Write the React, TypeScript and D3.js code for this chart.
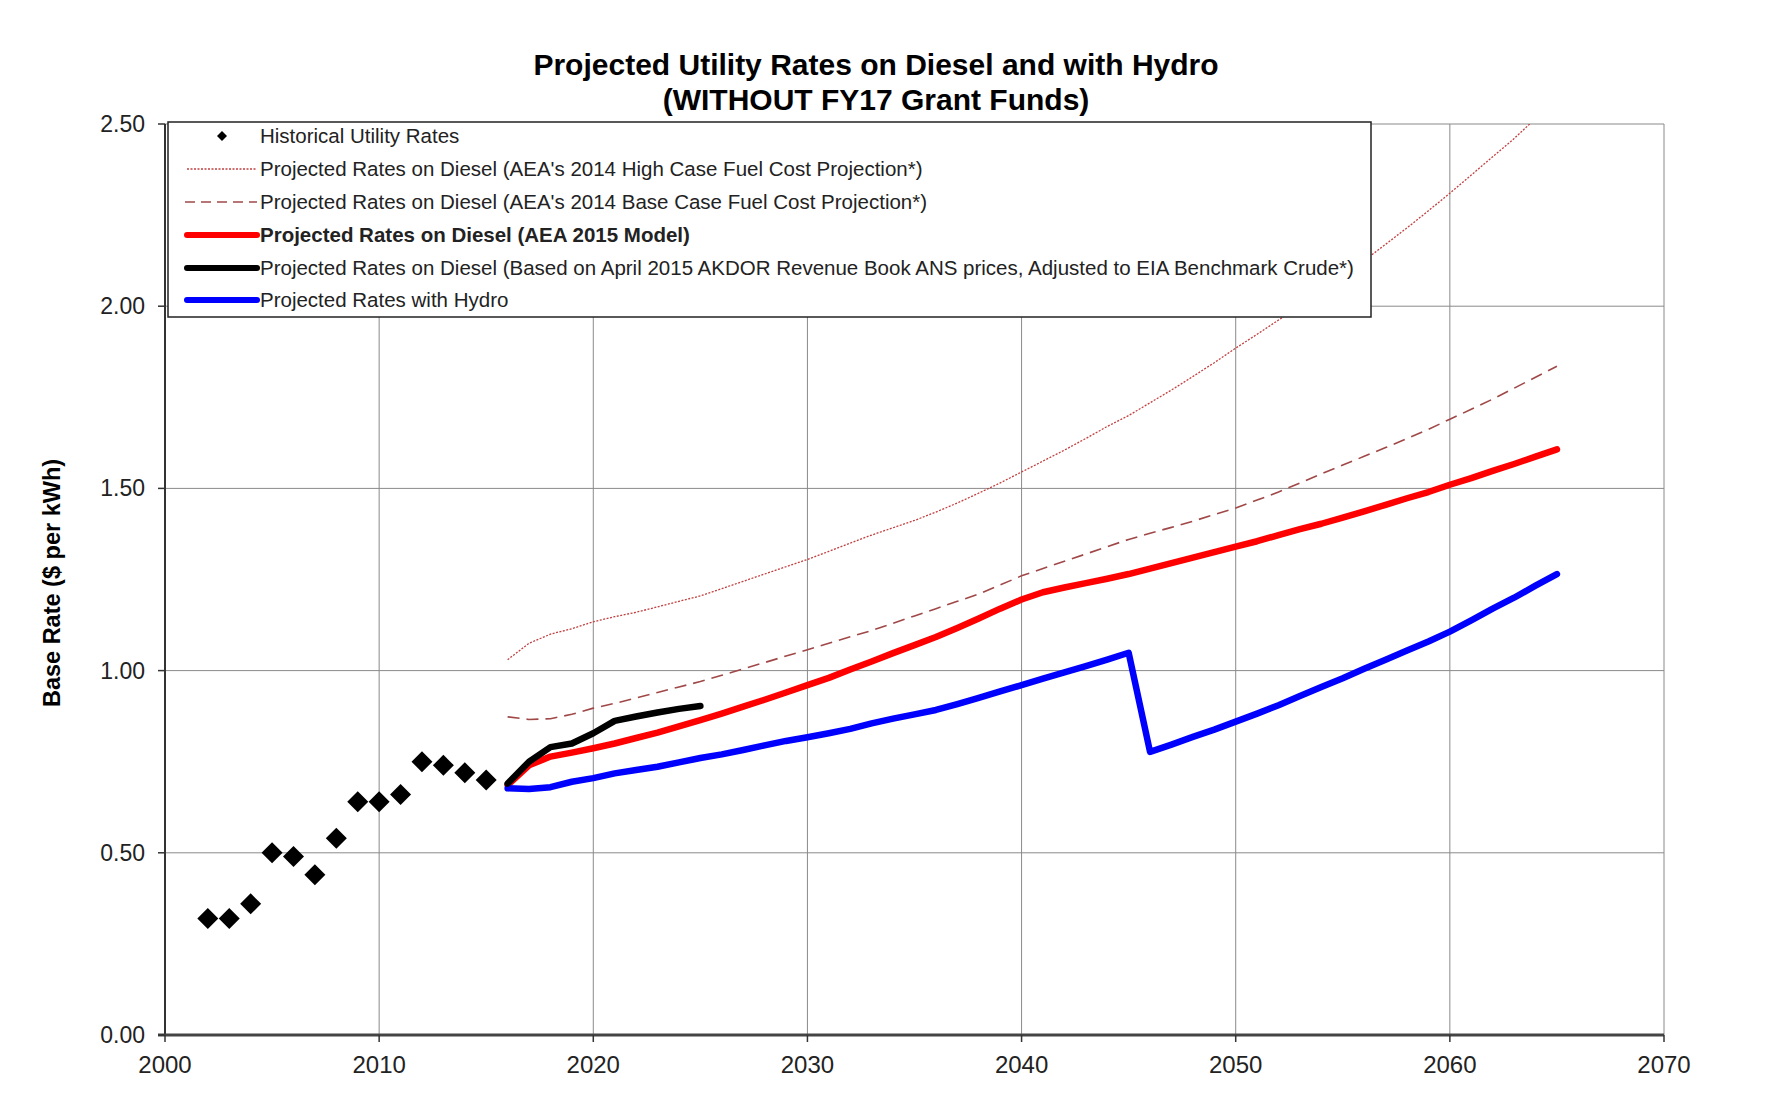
import React from "react";
import * as d3 from "d3";

const W = 1767;
const H = 1096;

const histYears = [2002, 2003, 2004, 2005, 2006, 2007, 2008, 2009, 2010, 2011, 2012, 2013, 2014, 2015];
const histRates = [0.32, 0.32, 0.36, 0.50, 0.49, 0.44, 0.54, 0.64, 0.64, 0.66, 0.75, 0.74, 0.72, 0.70];

const projYears = d3.range(2016, 2066);
const highCase = [1.03, 1.075, 1.10, 1.115, 1.134, 1.148, 1.16, 1.175, 1.19, 1.205, 1.225, 1.245, 1.265, 1.285, 1.305, 1.327, 1.35, 1.372, 1.392, 1.412, 1.435, 1.46, 1.487, 1.515, 1.545, 1.575, 1.605, 1.637, 1.67, 1.70, 1.735, 1.77, 1.807, 1.845, 1.885, 1.923, 1.962, 2.0, 2.04, 2.08, 2.125, 2.17, 2.215, 2.262, 2.31, 2.36, 2.41, 2.46, 2.515, 2.57];
const baseCase = [0.873, 0.866, 0.868, 0.88, 0.897, 0.91, 0.925, 0.94, 0.955, 0.97, 0.987, 1.005, 1.022, 1.04, 1.057, 1.075, 1.093, 1.11, 1.13, 1.15, 1.17, 1.19, 1.21, 1.235, 1.26, 1.28, 1.3, 1.32, 1.34, 1.36, 1.377, 1.393, 1.41, 1.428, 1.446, 1.468, 1.49, 1.515, 1.54, 1.564, 1.588, 1.612, 1.637, 1.662, 1.69, 1.717, 1.745, 1.775, 1.805, 1.835];
const aea2015 = [0.686, 0.74, 0.764, 0.775, 0.787, 0.80, 0.815, 0.83, 0.847, 0.864, 0.882, 0.901, 0.92, 0.94, 0.96, 0.98, 1.003, 1.025, 1.048, 1.07, 1.092, 1.117, 1.143, 1.17, 1.195, 1.215, 1.228, 1.24, 1.252, 1.265, 1.28, 1.295, 1.31, 1.325, 1.34, 1.355, 1.372, 1.388, 1.403, 1.42, 1.437, 1.455, 1.473, 1.49, 1.51, 1.528, 1.548, 1.567, 1.587, 1.607];
const hydro = [0.677, 0.675, 0.68, 0.695, 0.705, 0.718, 0.727, 0.736, 0.748, 0.76, 0.77, 0.782, 0.795, 0.807, 0.817, 0.828, 0.84, 0.855, 0.868, 0.88, 0.892, 0.908, 0.925, 0.943, 0.96, 0.978, 0.995, 1.012, 1.03, 1.049, 0.777, 0.797, 0.818, 0.838, 0.86, 0.882, 0.905, 0.93, 0.955, 0.979, 1.005, 1.03, 1.055, 1.08, 1.107, 1.138, 1.17, 1.2, 1.233, 1.265];
const akdorYears = [2016, 2017, 2018, 2019, 2020, 2021, 2022, 2023, 2024, 2025];
const akdor = [0.69, 0.75, 0.79, 0.80, 0.828, 0.862, 0.874, 0.885, 0.895, 0.903];

const xTicks = [2000, 2010, 2020, 2030, 2040, 2050, 2060, 2070];
const yTicks = [0, 0.5, 1.0, 1.5, 2.0, 2.5];

const titleLines = ["Projected Utility Rates on Diesel and with Hydro", "(WITHOUT FY17 Grant Funds)"];
const yTitle = "Base Rate ($ per kWh)";
const legendLabels = [
  "Historical Utility Rates",
  "Projected Rates on Diesel (AEA's 2014 High Case Fuel Cost Projection*)",
  "Projected Rates on Diesel (AEA's 2014 Base Case Fuel Cost Projection*)",
  "Projected Rates on Diesel (AEA 2015 Model)",
  "Projected Rates on Diesel (Based on April 2015 AKDOR Revenue Book ANS prices, Adjusted to EIA Benchmark Crude*)",
  "Projected Rates with Hydro",
];

const FONT = "'Liberation Sans', Arial, sans-serif";

export default function App() {
  const left = 165, right = 1664, top = 124, bottom = 1035;
  const x = d3.scaleLinear().domain([2000, 2070]).range([left, right]);
  const y = d3.scaleLinear().domain([0, 2.5]).range([bottom, top]);
  const line = d3.line<[number, number]>().x((d) => x(d[0])).y((d) => y(d[1]));
  const pair = (ys: number[], vs: number[]) => ys.map((yr, i) => [yr, vs[i]] as [number, number]);

  const diamond = (cx: number, cy: number, r: number) =>
    `M${cx},${cy - r}L${cx + r},${cy}L${cx},${cy + r}L${cx - r},${cy}Z`;

  const legX0 = 187, legX1 = 257, legTextX = 260;
  const legRowY = [136, 169, 202, 235, 268, 300];

  const legendSym = (i: number, yy: number) => {
    switch (i) {
      case 0:
        return <path d={diamond(222, yy, 5)} fill="#000" />;
      case 1:
        return <line x1={legX0} x2={legX1} y1={yy} y2={yy} stroke="#c04040" strokeWidth={1.3} strokeDasharray="2,1.5" />;
      case 2:
        return <line x1={legX0 - 2} x2={legX1} y1={yy} y2={yy} stroke="#a04848" strokeWidth={1.5} strokeDasharray="10,6" />;
      case 3:
        return <line x1={legX0} x2={legX1} y1={yy} y2={yy} stroke="#ff0000" strokeWidth={6} strokeLinecap="round" />;
      case 4:
        return <line x1={legX0} x2={legX1} y1={yy} y2={yy} stroke="#000" strokeWidth={6} strokeLinecap="round" />;
      default:
        return <line x1={legX0} x2={legX1} y1={yy} y2={yy} stroke="#0000ff" strokeWidth={6} strokeLinecap="round" />;
    }
  };

  return (
    <svg width={W} height={H} style={{ position: "absolute", left: 0, top: 0, background: "#fff" }} fontFamily={FONT}>
      <defs>
        <clipPath id="plotClip">
          <rect x={left} y={top} width={right - left} height={bottom - top} />
        </clipPath>
      </defs>
      <rect width={W} height={H} fill="#fff" />

      {/* title */}
      {titleLines.map((t, i) => (
        <text key={i} x={876} y={75 + i * 35} textAnchor="middle" fontSize={30} fontWeight="bold" fill="#000">
          {t}
        </text>
      ))}

      {/* gridlines */}
      {xTicks.map((t) => (
        <line key={"gx" + t} x1={x(t)} x2={x(t)} y1={top} y2={bottom} stroke="#8a8a8a" strokeWidth={1} />
      ))}
      {yTicks.map((t) => (
        <line key={"gy" + t} x1={left} x2={right} y1={y(t)} y2={y(t)} stroke="#8a8a8a" strokeWidth={1} />
      ))}

      {/* axes */}
      <line x1={left} x2={left} y1={top} y2={bottom} stroke="#333" strokeWidth={2} />
      <line x1={left - 7} x2={right} y1={bottom} y2={bottom} stroke="#444" strokeWidth={3} />
      {yTicks.map((t) => (
        <line key={"ty" + t} x1={left - 7} x2={left} y1={y(t)} y2={y(t)} stroke="#333" strokeWidth={1.5} />
      ))}
      {xTicks.map((t) => (
        <line key={"tx" + t} x1={x(t)} x2={x(t)} y1={bottom} y2={bottom + 7} stroke="#333" strokeWidth={1.5} />
      ))}

      {/* tick labels */}
      {yTicks.map((t) => (
        <text key={"ly" + t} x={left - 20} y={y(t) + 8} textAnchor="end" fontSize={23} fill="#222">
          {t.toFixed(2)}
        </text>
      ))}
      {xTicks.map((t) => (
        <text key={"lx" + t} x={x(t)} y={bottom + 38} textAnchor="middle" fontSize={24} fill="#222">
          {t}
        </text>
      ))}

      {/* y title */}
      <text transform={`translate(60,${583}) rotate(-90)`} textAnchor="middle" fontSize={23.5} fontWeight="bold" fill="#000">
        {yTitle}
      </text>

      {/* series */}
      <g clipPath="url(#plotClip)">
        <path d={line(pair(projYears, highCase)) || ""} fill="none" stroke="#c04040" strokeWidth={1.3} strokeDasharray="2,1.5" />
        <path d={line(pair(projYears, baseCase)) || ""} fill="none" stroke="#a04848" strokeWidth={1.6} strokeDasharray="12,7" />
        <path d={line(pair(projYears, aea2015)) || ""} fill="none" stroke="#ff0000" strokeWidth={6.5} strokeLinejoin="round" strokeLinecap="round" />
        <path d={line(pair(projYears, hydro)) || ""} fill="none" stroke="#0000ff" strokeWidth={6.5} strokeLinejoin="round" strokeLinecap="round" />
        <path d={line(pair(akdorYears, akdor)) || ""} fill="none" stroke="#000" strokeWidth={6.5} strokeLinejoin="round" strokeLinecap="round" />
        {histYears.map((yr, i) => (
          <path key={"h" + yr} d={diamond(x(yr), y(histRates[i]), 10.5)} fill="#000" />
        ))}
      </g>

      {/* legend */}
      <rect x={168} y={122} width={1203} height={195} fill="#fff" stroke="#222" strokeWidth={1.5} />
      {legendLabels.map((lab, i) => (
        <g key={"leg" + i}>
          {legendSym(i, legRowY[i])}
          <text x={legTextX} y={legRowY[i] + 7} fontSize={20.5} fill="#222" fontWeight={i === 3 ? "bold" : "normal"}>
            {lab}
          </text>
        </g>
      ))}
    </svg>
  );
}
